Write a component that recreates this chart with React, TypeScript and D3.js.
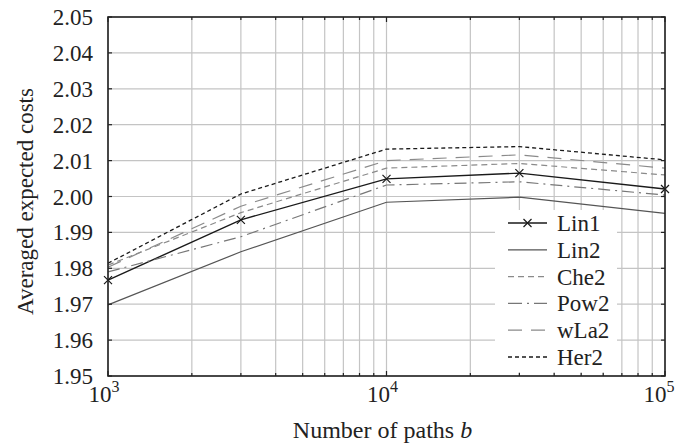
import * as d3 from 'd3';
import React from 'react';

// x positions: number of paths b
const paths = [1000, 3000, 10000, 30000, 100000];

// series values
const lin1 = [1.9767, 1.9935, 2.0049, 2.0065, 2.0021];
const lin2 = [1.9698, 1.9846, 1.9984, 1.9998, 1.9953];
const che2 = [1.9809, 1.9955, 2.0079, 2.0092, 2.0060];
const pow2 = [1.9790, 1.9888, 2.0032, 2.0041, 2.0004];
const wla2 = [1.9803, 1.9973, 2.0100, 2.0116, 2.0079];
const her2 = [1.9814, 2.0007, 2.0132, 2.0139, 2.0102];

const seriesNames = ['Lin1', 'Lin2', 'Che2', 'Pow2', 'wLa2', 'Her2'];
const yTicks = [1.95, 1.96, 1.97, 1.98, 1.99, 2.0, 2.01, 2.02, 2.03, 2.04, 2.05];
const xMajor = [1000, 10000, 100000];
const xExp = ['3', '4', '5'];

const styles: Record<string, { stroke: string; dash: string; width: number; marker?: boolean }> = {
    Lin1: { stroke: '#1a1a1a', dash: '', width: 1.4, marker: true },
    Lin2: { stroke: '#555', dash: '', width: 1.2 },
    Che2: { stroke: '#8a8a8a', dash: '6,4', width: 1.2 },
    Pow2: { stroke: '#777', dash: '12,5,2,5', width: 1.2 },
    wLa2: { stroke: '#8a8a8a', dash: '14,9', width: 1.2 },
    Her2: { stroke: '#1a1a1a', dash: '4,3', width: 1.3 },
};

export default function App() {
    const width = 678;
    const height = 447;
    // plot box
    const margin = { top: 17, right: 13, bottom: 71, left: 108 };
    const innerW = width - margin.left - margin.right;
    const innerH = height - margin.top - margin.bottom;

    const x = d3.scaleLog().domain([1000, 100000]).range([0, innerW]);
    const y = d3.scaleLinear().domain([1.95, 2.05]).range([innerH, 0]);

    // minor log ticks 2..9 per decade
    const xMinor = d3.range(2, 10).flatMap((k) => [k * 1000, k * 10000]);
    const xGrid = [...xMajor, ...xMinor];

    const data: Record<string, number[]> = {
        Lin1: lin1, Lin2: lin2, Che2: che2, Pow2: pow2, wLa2: wla2, Her2: her2,
    };

    const line = d3.line<number>()
        .x((_, i) => x(paths[i]))
        .y((d) => y(d));

    const font = '"Liberation Serif", "Times New Roman", serif';
    const fs = 23;

    const cross = (cx: number, cy: number, s = 4, key?: string) => (
        <path key={key} d={`M${cx - s},${cy - s}L${cx + s},${cy + s}M${cx - s},${cy + s}L${cx + s},${cy - s}`}
            stroke="#1a1a1a" strokeWidth={1.2} fill="none" />
    );

    // legend layout (plot coordinates)
    const legend = { x: 387, y: 193, w: 122, h: 162, row: 26.8, lineX0: 400, lineX1: 439, textX: 449 };

    return (
        <svg width={width} height={height} style={{ position: 'absolute', left: 0, top: 0, background: 'white' }}
            fontFamily={font}>
            <g transform={`translate(${margin.left},${margin.top})`}>
                {/* grid */}
                {xGrid.map((v) => (
                    <line key={`gx${v}`} x1={x(v)} x2={x(v)} y1={0} y2={innerH} stroke="#c4c4c4" strokeWidth={1.2} />
                ))}
                {yTicks.map((v) => (
                    <line key={`gy${v}`} x1={0} x2={innerW} y1={y(v)} y2={y(v)} stroke="#c4c4c4" strokeWidth={1.2} />
                ))}

                {/* series */}
                {seriesNames.map((name) => (
                    <path key={name} d={line(data[name]) || ''} fill="none"
                        stroke={styles[name].stroke} strokeWidth={styles[name].width}
                        strokeDasharray={styles[name].dash} />
                ))}
                {lin1.map((v, i) => cross(x(paths[i]), y(v), 4, `m${i}`))}

                {/* legend */}
                <rect x={legend.x} y={legend.y} width={legend.w} height={legend.h} fill="white" />
                {seriesNames.map((name, i) => {
                    const ly = legend.y + 13 + i * legend.row;
                    return (
                        <g key={`lg${name}`}>
                            <line x1={legend.lineX0} x2={legend.lineX1} y1={ly} y2={ly}
                                stroke={styles[name].stroke} strokeWidth={styles[name].width}
                                strokeDasharray={name === 'Pow2' ? '14,5,2,5' : styles[name].dash} />
                            {styles[name].marker && cross((legend.lineX0 + legend.lineX1) / 2, ly, 4)}
                            <text x={legend.textX} y={ly} dy="0.35em" fontSize={fs} fill="#222">{name}</text>
                        </g>
                    );
                })}

                {/* ticks inside the box */}
                {xGrid.map((v) => {
                    const len = xMajor.includes(v) ? 5 : 3;
                    return (
                        <g key={`tx${v}`}>
                            <line x1={x(v)} x2={x(v)} y1={innerH} y2={innerH - len} stroke="#222" strokeWidth={1.2} />
                            <line x1={x(v)} x2={x(v)} y1={0} y2={len} stroke="#222" strokeWidth={1.2} />
                        </g>
                    );
                })}
                {yTicks.map((v) => (
                    <g key={`ty${v}`}>
                        <line x1={0} x2={4} y1={y(v)} y2={y(v)} stroke="#222" strokeWidth={1.2} />
                        <line x1={innerW} x2={innerW - 4} y1={y(v)} y2={y(v)} stroke="#222" strokeWidth={1.2} />
                    </g>
                ))}

                {/* frame */}
                <rect x={0} y={0} width={innerW} height={innerH} fill="none" stroke="#222" strokeWidth={1.6} />

                {/* y labels */}
                {yTicks.map((v) => (
                    <text key={`ly${v}`} x={-15} y={y(v)} dy="0.35em" textAnchor="end" fontSize={fs} fill="#222">
                        {d3.format('.2f')(v)}
                    </text>
                ))}

                {/* x labels */}
                {xMajor.map((v, i) => (
                    <text key={`lx${v}`} x={x(v) - (i === 2 ? 6 : 4)} y={innerH + 26} textAnchor="middle" fontSize={fs} fill="#222">
                        10<tspan dy={-10} fontSize={16}>{xExp[i]}</tspan>
                    </text>
                ))}

                {/* axis titles */}
                <text x={innerW / 2 - 4} y={innerH + 62} textAnchor="middle" fontSize={24} fill="#222">
                    Number of paths <tspan fontStyle="italic">b</tspan>
                </text>
                <text transform={`translate(${-83},${innerH / 2 + 5}) rotate(-90)`} textAnchor="middle" dy="0.35em"
                    fontSize={fs} fill="#222">
                    Averaged expected costs
                </text>
            </g>
        </svg>
    );
}
